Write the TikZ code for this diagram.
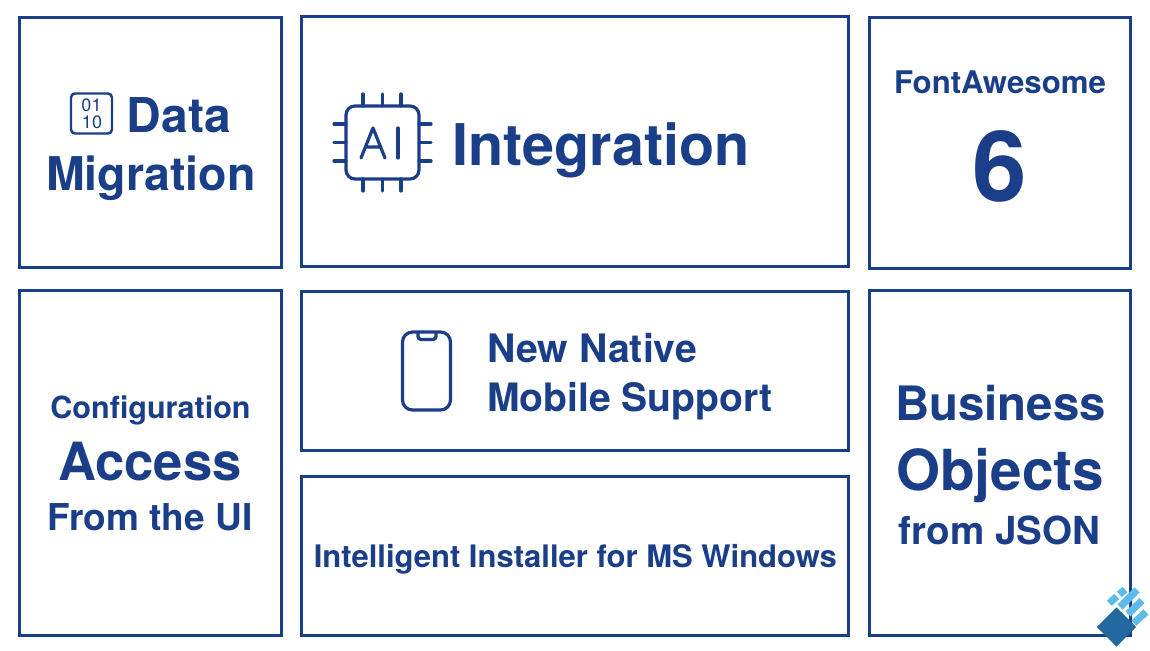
\documentclass[tikz,border=0pt]{standalone}
\usepackage{fontspec}
\setmainfont{TeX Gyre Heros}
\definecolor{navy}{HTML}{1A3E87}
\definecolor{logod}{HTML}{22699F}
\definecolor{logol}{HTML}{5DBBEB}
\tikzset{
  card/.style={draw=navy,line width=3pt,fill=white,anchor=north west,inner sep=0pt,outer sep=0pt},
  lbl/.style={text=navy,font=\bfseries,inner sep=0pt,anchor=base,align=center},
  ico/.style={draw=navy,line width=3.2pt,line cap=round},
  ico2/.style={draw=navy,line width=2.4pt,line cap=round},
  bar/.style={draw=logol,line width=7.2pt,line cap=butt},
}
\newcommand{\fs}[1]{\fontsize{#1}{#1}\selectfont}
\begin{document}
\begin{tikzpicture}[x=1pt,y=-1pt]
\useasboundingbox (0,0) rectangle (1150,650);
\fill[white] (0,0) rectangle (1150,650);
\node[card,minimum width=261.5pt,minimum height=249.5pt] (b1) at (19.5,18) {};
\node[card,minimum width=546.8pt,minimum height=249.7pt] (b2) at (301.5,16.3) {};
\node[card,minimum width=261.2pt,minimum height=250.2pt] (b3) at (869.3,17.8) {};
\node[card,minimum width=261.5pt,minimum height=345.3pt] (b4) at (19.5,290.2) {};
\node[card,minimum width=546.8pt,minimum height=159pt] (b5) at (301.5,291.7) {};
\node[card,minimum width=546.8pt,minimum height=158.6pt] (b6) at (301.5,476.7) {};
\node[card,minimum width=261.2pt,minimum height=345.3pt] (b7) at (869.3,290.2) {};
% text
\node[lbl] (t1) at (178.8,132) {\fs{48}Data};
\node[lbl] (t1b) at (150.8,190) {\fs{46.5}Migration};
\node[lbl] (t2) at (601,165) {\fs{57.5}Integration};
\node[lbl] (t3) at (1000,94) {\fs{31.2}FontAwesome};
\node[lbl] (t3b) at (1000,201) {\fs{98}6};
\node[lbl] (t4) at (150.5,418) {\fs{30.5}Configuration};
\node[lbl] (t4b) at (150,480) {\fs{52.6}Access};
\node[lbl] (t4c) at (150,530) {\fs{37}From the UI};
\node[lbl,anchor=base west] (t5) at (487,362) {\fs{39.2}New Native};
\node[lbl,anchor=base west] (t5b) at (487,411) {\fs{39.1}Mobile Support};
\node[lbl] (t6) at (575.3,567) {\fs{31}Intelligent Installer for MS Windows};
\node[lbl] (t7) at (1000.5,420) {\fs{47.4}Business};
\node[lbl] (t7b) at (1000,490) {\fs{56.6}Objects};
\node[lbl] (t7c) at (999.5,544) {\fs{38.6}from JSON};
% binary icon
\draw[ico2,rounded corners=4pt] (71,93.5) rectangle (112,133.5);
\node[text=navy,font=\fs{18},inner sep=0pt] (i1) at (91.5,105.5) {01};
\node[text=navy,font=\fs{18},inner sep=0pt] (i2) at (92,122) {10};
% chip icon
\draw[ico,rounded corners=9pt] (346,106) rectangle (419,179);
\foreach \x in {363,382.5,401}{
  \draw[ico] (\x,94) -- (\x,106);
  \draw[ico] (\x,179) -- (\x,191);
}
\foreach \y in {124,142.5,161}{
  \draw[ico] (334,\y) -- (346,\y);
  \draw[ico] (419,\y) -- (431,\y);
}
\draw[ico,line join=round] (361,158) -- (373,128) -- (385,158) (365.5,147) -- (380.5,147);
\draw[ico] (398,128) -- (398,158);
% phone icon
\draw[ico,rounded corners=10pt] (402.5,332) rectangle (450.5,410);
\draw[ico,rounded corners=3pt] (418,333) -- (418,339.5) -- (436,339.5) -- (436,333);
% logo
\fill[logod] (1116.5,607.3) -- (1136,627) -- (1116.5,646.7) -- (1096.8,627) -- cycle;
\draw[bar] (1109.3,603.3) -- (1116.7,596.5);
\draw[bar] (1119.3,594.3) -- (1125,589.5);
\draw[bar] (1120,607) -- (1137,590);
\draw[bar] (1128,614) -- (1142,600.5);
\draw[bar] (1134,623) -- (1146,612);
\end{tikzpicture}
\end{document}
